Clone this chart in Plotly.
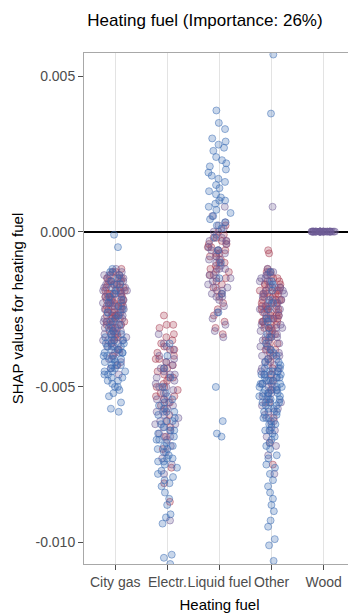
import plotly.graph_objects as go

categories = ["City gas", "Electr.", "Liquid fuel", "Other", "Wood"]
y_tick_vals = [-0.010, -0.005, 0.000, 0.005]
y_tick_text = ["-0.010", "-0.005", "0.000", "0.005"]

# SHAP values, grouped by point colour (feature-value colour)
city_gas_red = [-0.0012,-0.0013,-0.0014,-0.0014,-0.0015,-0.0015,-0.0016,-0.0016,-0.0017,-0.0017,-0.0018,-0.0018,
                -0.0019,-0.0019,-0.0020,-0.0020,-0.0020,-0.0021,-0.0021,-0.0022,-0.0022,-0.0022,-0.0023,-0.0023,
                -0.0024,-0.0024,-0.0024,-0.0025,-0.0025,-0.0026,-0.0026,-0.0027,-0.0027,-0.0028,-0.0028,-0.0029,
                -0.0029,-0.0030,-0.0030,-0.0031,-0.0032,-0.0033,-0.0034,-0.0035,-0.0036,-0.0038,-0.0040,-0.0043,
                -0.0013,-0.0015,-0.0016,-0.0017,-0.0018,-0.0019,-0.0020,-0.0021,-0.0022,-0.0023,-0.0024,-0.0025,
                -0.0026,-0.0027,-0.0028,-0.0029,-0.0030,-0.0031,-0.0032,-0.0034,-0.0019,-0.0023,-0.0027]
city_gas_purple = [-0.0012,-0.0013,-0.0014,-0.0015,-0.0015,-0.0016,-0.0017,-0.0017,-0.0018,-0.0019,-0.0019,-0.0020,
                   -0.0021,-0.0021,-0.0022,-0.0023,-0.0023,-0.0024,-0.0025,-0.0025,-0.0026,-0.0027,-0.0027,-0.0028,
                   -0.0029,-0.0029,-0.0030,-0.0031,-0.0031,-0.0032,-0.0033,-0.0033,-0.0034,-0.0035,-0.0035,-0.0036,
                   -0.0037,-0.0038,-0.0039,-0.0040,-0.0041,-0.0042,-0.0044,-0.0046,-0.0020,-0.0024,-0.0028,-0.0032,
                   -0.0036,-0.0016,-0.0013,-0.0015,-0.0017,-0.0019,-0.0021,-0.0023,-0.0025,-0.0027,-0.0029,-0.0031,
                   -0.0033,-0.0035,-0.0037,-0.0039,-0.0014,-0.0018,-0.0022,-0.0026,-0.0030,-0.0034]
city_gas_blue = [-0.0001,-0.0005,-0.0012,-0.0014,-0.0016,-0.0018,-0.0020,-0.0022,-0.0024,-0.0026,-0.0028,-0.0030,
                 -0.0031,-0.0032,-0.0033,-0.0034,-0.0035,-0.0035,-0.0036,-0.0036,-0.0037,-0.0037,-0.0038,-0.0038,
                 -0.0039,-0.0039,-0.0040,-0.0040,-0.0041,-0.0041,-0.0042,-0.0042,-0.0043,-0.0043,-0.0044,-0.0044,
                 -0.0045,-0.0045,-0.0046,-0.0046,-0.0047,-0.0048,-0.0049,-0.0050,-0.0051,-0.0052,-0.0055,-0.0057,
                 -0.0058,-0.0021,-0.0027,-0.0013,-0.0015,-0.0017,-0.0019,-0.0023,-0.0025,-0.0029,-0.0033,-0.0035,
                 -0.0037,-0.0039,-0.0041,-0.0043,-0.0045,-0.0047,-0.0048,-0.0050,-0.0053]

electr_red = [-0.0027,-0.0030,-0.0030,-0.0031,-0.0033,-0.0035,-0.0036,-0.0037,-0.0038,-0.0039,-0.0040,-0.0041,
              -0.0042,-0.0043,-0.0044,-0.0045,-0.0046,-0.0047,-0.0048,-0.0049,-0.0050,-0.0051,-0.0052,-0.0053,
              -0.0054,-0.0055,-0.0057,-0.0059,-0.0061,-0.0063,-0.0066,-0.0070,-0.0076,-0.0081,-0.0087,
              -0.0034,-0.0038,-0.0041,-0.0044,-0.0047,-0.0050,-0.0053,-0.0056]
electr_purple = [-0.0033,-0.0036,-0.0038,-0.0040,-0.0041,-0.0043,-0.0044,-0.0045,-0.0046,-0.0047,-0.0048,-0.0049,
                 -0.0050,-0.0051,-0.0052,-0.0053,-0.0054,-0.0055,-0.0056,-0.0057,-0.0058,-0.0059,-0.0060,-0.0061,
                 -0.0062,-0.0063,-0.0064,-0.0065,-0.0066,-0.0067,-0.0069,-0.0071,-0.0073,-0.0075,-0.0078,-0.0093,
                 -0.0037,-0.0042,-0.0046,-0.0050,-0.0054,-0.0058,-0.0062,-0.0066]
electr_blue = [-0.0036,-0.0040,-0.0044,-0.0047,-0.0050,-0.0052,-0.0054,-0.0056,-0.0057,-0.0058,-0.0059,-0.0060,
               -0.0061,-0.0062,-0.0063,-0.0064,-0.0065,-0.0066,-0.0067,-0.0068,-0.0069,-0.0070,-0.0071,-0.0072,
               -0.0073,-0.0074,-0.0075,-0.0076,-0.0077,-0.0078,-0.0079,-0.0080,-0.0081,-0.0082,-0.0084,-0.0086,
               -0.0088,-0.0091,-0.0092,-0.0094,-0.0104,-0.0105,-0.0107,-0.0069,-0.0074,
               -0.0055,-0.0058,-0.0061,-0.0064,-0.0067,-0.0070,-0.0073]

liquid_red = [0.0002,0.0000,-0.0001,-0.0002,-0.0003,-0.0003,-0.0004,-0.0005,-0.0005,-0.0006,-0.0007,-0.0007,
              -0.0008,-0.0009,-0.0010,-0.0011,-0.0012,-0.0013,-0.0014,-0.0015,-0.0016,-0.0018,-0.0019,-0.0021,
              -0.0023,-0.0025,-0.0027,-0.0029,-0.0031,-0.0033,
              -0.0002,-0.0004,-0.0006,-0.0008,-0.0010,-0.0012,-0.0014,-0.0017,-0.0020]
liquid_purple = [0.0008,0.0005,0.0003,0.0002,0.0001,0.0000,-0.0001,-0.0002,-0.0003,-0.0004,-0.0005,-0.0006,
                 -0.0007,-0.0008,-0.0009,-0.0010,-0.0011,-0.0012,-0.0013,-0.0014,-0.0015,-0.0016,-0.0017,-0.0018,
                 -0.0019,-0.0020,-0.0021,-0.0022,-0.0024,-0.0026,-0.0028,-0.0030,-0.0032,-0.0034,
                 -0.0003,-0.0006,-0.0009,-0.0012,-0.0015,-0.0018,-0.0021]
liquid_blue = [0.0039,0.0035,0.0033,0.0030,0.0029,0.0028,0.0027,0.0026,0.0024,0.0023,0.0022,0.0021,0.0020,
               0.0019,0.0018,0.0017,0.0016,0.0015,0.0014,0.0013,0.0012,0.0011,0.0010,0.0010,0.0009,0.0008,
               0.0007,0.0006,0.0005,0.0004,0.0003,0.0002,0.0001,-0.0002,-0.0006,-0.0010,-0.0015,-0.0020,
               -0.0026,-0.0050,-0.0061,-0.0066,-0.0065]

other_red = [-0.0006,-0.0007,-0.0012,-0.0013,-0.0014,-0.0015,-0.0016,-0.0016,-0.0017,-0.0017,-0.0018,-0.0018,
             -0.0019,-0.0019,-0.0020,-0.0020,-0.0021,-0.0021,-0.0022,-0.0022,-0.0023,-0.0023,-0.0024,-0.0024,
             -0.0025,-0.0025,-0.0026,-0.0026,-0.0027,-0.0027,-0.0028,-0.0028,-0.0029,-0.0029,-0.0030,-0.0030,
             -0.0031,-0.0031,-0.0032,-0.0033,-0.0034,-0.0035,-0.0036,-0.0037,-0.0038,-0.0039,-0.0040,-0.0042,
             -0.0044,-0.0046,-0.0048,-0.0051,-0.0055,-0.0060,-0.0068,-0.0075,-0.0019,-0.0022,-0.0025,-0.0028,
             -0.0013,-0.0015,-0.0017,-0.0018,-0.0019,-0.0020,-0.0021,-0.0022,-0.0023,-0.0024,-0.0025,-0.0026,
             -0.0027,-0.0028,-0.0029,-0.0030,-0.0031,-0.0032,-0.0034,-0.0036,-0.0038,-0.0041,-0.0020,-0.0024]
other_purple = [0.0008,-0.0012,-0.0013,-0.0014,-0.0015,-0.0016,-0.0017,-0.0018,-0.0019,-0.0020,-0.0021,-0.0022,
                -0.0023,-0.0024,-0.0025,-0.0026,-0.0027,-0.0028,-0.0029,-0.0030,-0.0031,-0.0032,-0.0033,-0.0034,
                -0.0035,-0.0036,-0.0037,-0.0038,-0.0039,-0.0040,-0.0041,-0.0042,-0.0043,-0.0044,-0.0045,-0.0046,
                -0.0047,-0.0048,-0.0049,-0.0050,-0.0051,-0.0052,-0.0053,-0.0054,-0.0055,-0.0056,-0.0057,-0.0058,
                -0.0059,-0.0060,-0.0062,-0.0064,-0.0066,-0.0069,-0.0072,-0.0078,-0.0015,-0.0020,-0.0025,-0.0030,
                -0.0035,-0.0040,-0.0045,-0.0013,-0.0016,-0.0019,-0.0022,-0.0025,-0.0028,-0.0031,-0.0034,-0.0037,
                -0.0040,-0.0043,-0.0046,-0.0049,-0.0052,-0.0055,-0.0058,-0.0061,-0.0064,-0.0014,-0.0018,-0.0023,
                -0.0027,-0.0033,-0.0038,-0.0044,-0.0050]
other_blue = [0.0057,0.0038,-0.0013,-0.0016,-0.0019,-0.0022,-0.0025,-0.0028,-0.0031,-0.0034,-0.0036,-0.0038,
              -0.0040,-0.0041,-0.0042,-0.0043,-0.0044,-0.0045,-0.0045,-0.0046,-0.0046,-0.0047,-0.0047,-0.0048,
              -0.0048,-0.0049,-0.0049,-0.0050,-0.0050,-0.0051,-0.0051,-0.0052,-0.0052,-0.0053,-0.0053,-0.0054,
              -0.0054,-0.0055,-0.0055,-0.0056,-0.0057,-0.0058,-0.0059,-0.0060,-0.0061,-0.0062,-0.0063,-0.0064,
              -0.0065,-0.0066,-0.0067,-0.0068,-0.0069,-0.0070,-0.0072,-0.0073,-0.0075,-0.0076,-0.0078,-0.0080,
              -0.0082,-0.0084,-0.0086,-0.0088,-0.0090,-0.0093,-0.0095,-0.0099,-0.0101,-0.0106,
              -0.0039,-0.0042,-0.0044,-0.0046,-0.0048,-0.0050,-0.0052,-0.0054,-0.0056,-0.0058,-0.0060,-0.0047,
              -0.0049,-0.0051,-0.0053,-0.0055,-0.0045,-0.0057,-0.0062,-0.0064,-0.0017,-0.0023,-0.0029,-0.0033]

wood_purple = [0.0, 0.0, 0.0, 0.0, 0.0, 0.0, 0.0, 0.0, 0.0, 0.0, 0.0, 0.0, 0.0, 0.0, 0.0,
               0.0, 0.0, 0.0, 0.0, 0.0, 0.0, 0.0, 0.0, 0.0, 0.0, 0.0, 0.0, 0.0, 0.0, 0.0]

groups = {
    "red": {"City gas": city_gas_red, "Electr.": electr_red, "Liquid fuel": liquid_red, "Other": other_red},
    "purple": {"City gas": city_gas_purple, "Electr.": electr_purple, "Liquid fuel": liquid_purple,
               "Other": other_purple, "Wood": wood_purple},
    "blue": {"City gas": city_gas_blue, "Electr.": electr_blue, "Liquid fuel": liquid_blue, "Other": other_blue},
}
rgb = {"blue": (58, 108, 180), "purple": (110, 92, 150), "red": (168, 62, 84)}

fig = go.Figure()
for gname in ["red", "purple", "blue"]:
    r, g, b = rgb[gname]
    for cat, vals in groups[gname].items():
        fig.add_trace(go.Box(
            x=[cat] * len(vals), y=vals, name=cat,
            boxpoints="all", jitter=1, pointpos=0,
            fillcolor="rgba(0,0,0,0)", line=dict(width=0, color="rgba(0,0,0,0)"),
            marker=dict(size=7, color=f"rgba({r},{g},{b},0.28)",
                        line=dict(width=1, color=f"rgba({r},{g},{b},0.5)")),
            showlegend=False, hoveron="points",
        ))

# the page body has an 8px default margin, so the figure is drawn 8px smaller
fig.update_layout(
    width=348, height=605,
    margin=dict(l=76, r=1, t=45, b=49, autoexpand=False),
    paper_bgcolor="white", plot_bgcolor="white",
    boxmode="overlay", boxgap=0.52, boxgroupgap=0,
    font=dict(family="Liberation Sans, Arial, sans-serif", color="black"),
    title=dict(text="Heating fuel (Importance: 26%)", x=197 / 348, xanchor="center",
               y=1 - 12 / 605, yanchor="middle", font=dict(size=17, color="black")),
    showlegend=False,
)
fig.update_xaxes(
    type="category", categoryorder="array", categoryarray=categories,
    range=[-0.6, 4.6], automargin=False, tickangle=0,
    showgrid=True, gridcolor="#e3e3e3", gridwidth=1.3,
    showline=True, linecolor="#a8a8a8", linewidth=1, mirror=True,
    ticks="outside", ticklen=5, tickcolor="#4d4d4d",
    tickfont=dict(size=14, color="#4d4d4d"),
    title=dict(text="Heating fuel", font=dict(size=15, color="black"), standoff=10),
)
fig.update_yaxes(
    range=[-0.0107, 0.00575], automargin=False,
    tickvals=y_tick_vals, ticktext=y_tick_text,
    showgrid=False,
    zeroline=True, zerolinecolor="black", zerolinewidth=2,
    showline=True, linecolor="#a8a8a8", linewidth=1, mirror=True,
    ticks="outside", ticklen=5, tickcolor="#4d4d4d",
    tickfont=dict(size=14, color="#4d4d4d"),
    title=dict(text="SHAP values for heating fuel", font=dict(size=15, color="black"), standoff=8),
)

fig.write_html("out.html")
